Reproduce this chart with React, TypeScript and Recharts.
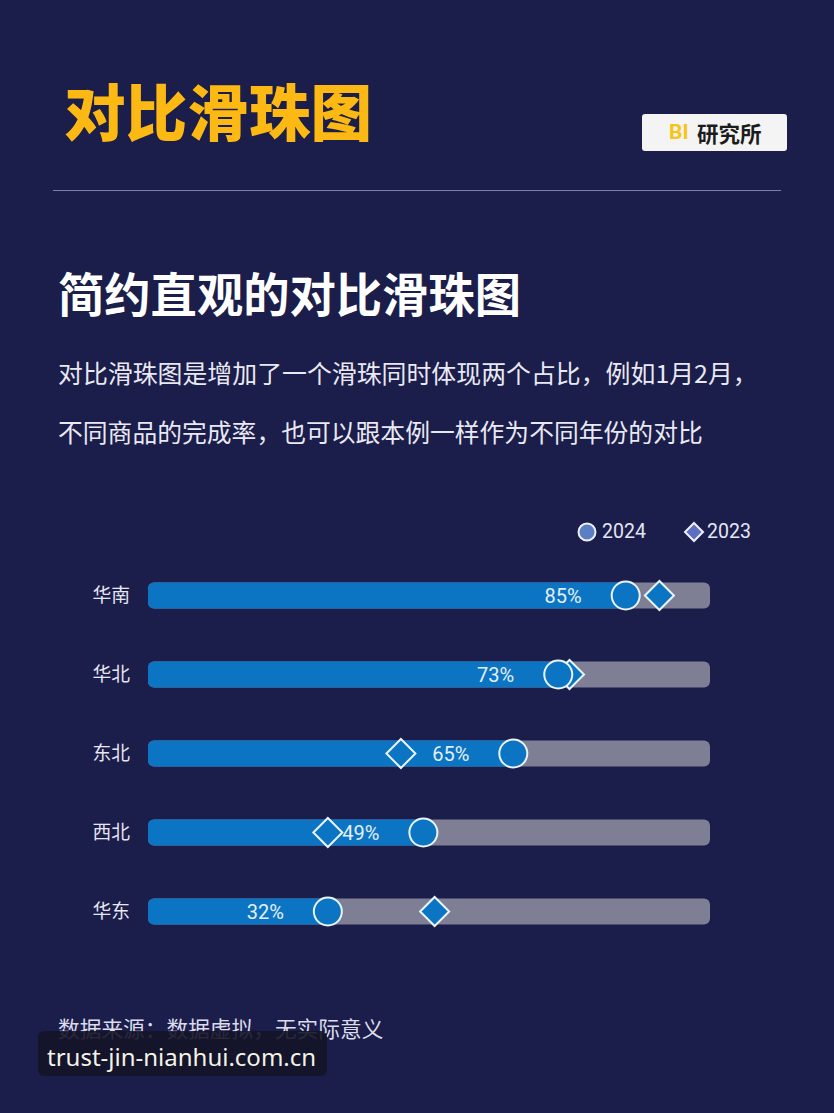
import { BarChart, Bar, XAxis, YAxis, Legend, LabelList } from 'recharts';

const regions = ['华南', '华北', '东北', '西北', '华东'];
const values2024 = [85, 73, 65, 49, 32];
const values2023 = [91, 75, 45, 32, 51];
const seriesNames = ['2024', '2023'];

const chartData = regions.map((region, i) => ({
  region,
  v2024: values2024[i],
  v2023: values2023[i],
  bead2024: values2024[i],
}));

const CJK = '"Noto Sans CJK SC", "Noto Sans", sans-serif';
const BG = '#1b1d4a';
const BLUE = '#0b75c3';
const TRACK = '#7e7e95';
const BEAD_STROKE = '#e9f4f8';
const BAR_H = 26;

// bead sits on the tip of the bar, so the position still comes from the x scale
function CircleBead(props: any) {
  const { x, y, width, height } = props;
  return <circle cx={x + width} cy={y + height / 2} r={14} fill={BLUE} stroke={BEAD_STROKE} strokeWidth={2} />;
}

function DiamondBead(props: any) {
  const { x, y, width, height } = props;
  const cx = x + width;
  const cy = y + height / 2;
  const r = 14.5;
  return (
    <path
      d={`M${cx - r},${cy}L${cx},${cy - r}L${cx + r},${cy}L${cx},${cy + r}Z`}
      fill={BLUE}
      stroke={BEAD_STROKE}
      strokeWidth={2}
      strokeLinejoin="miter"
    />
  );
}

function BeadLegend() {
  return (
    <div style={{ position: 'relative', width: 200, height: 30, fontFamily: 'Roboto, sans-serif', fontSize: 19.5, color: '#e4e6f4' }}>
      <svg width={200} height={30} style={{ position: 'absolute', left: 0, top: 0 }}>
        <circle cx={10} cy={15} r={8.5} fill="#5b7fc4" stroke="#eef0fa" strokeWidth={2} />
        <path d="M117,6L126,15L117,24L108,15Z" fill="#5d6fc0" stroke="#eef0fa" strokeWidth={2} />
      </svg>
      <span style={{ position: 'absolute', left: 25, top: 3 }}>{seriesNames[0]}</span>
      <span style={{ position: 'absolute', left: 130, top: 3 }}>{seriesNames[1]}</span>
    </div>
  );
}

const abs = (left: number, top: number, extra: any = {}) => ({
  position: 'absolute' as const,
  left,
  top,
  whiteSpace: 'nowrap' as const,
  fontFamily: CJK,
  ...extra,
});

export default function App() {
  return (
    <div style={{ position: 'absolute', left: 0, top: 0, width: 834, height: 1113, background: BG, overflow: 'hidden' }}>
      <div style={abs(64, 66, { fontSize: 61.6, lineHeight: '88px', fontWeight: 900, color: '#fdb913' })}>对比滑珠图</div>

      <div style={abs(642, 114, { width: 145, height: 37, background: '#f4f4f5', borderRadius: 3 })}>
        <span style={abs(27, 3, { fontSize: 21, lineHeight: '31px', fontWeight: 700, color: '#f5c518', fontFamily: 'Roboto, sans-serif' })}>BI</span>
        <span style={abs(55, 3, { fontSize: 21.5, lineHeight: '31px', fontWeight: 700, color: '#1c1c1c' })}>研究所</span>
      </div>

      <div style={{ position: 'absolute', left: 53, top: 190, width: 728, height: 1, background: '#7c7fa6' }} />

      <div style={abs(58, 259, { fontSize: 46.3, lineHeight: '66px', fontWeight: 700, color: '#ffffff' })}>简约直观的对比滑珠图</div>
      <div style={abs(58, 354, { fontSize: 24.9, lineHeight: '36px', fontWeight: 400, color: '#e9e9f3' })}>
        对比滑珠图是增加了一个滑珠同时体现两个占比，例如1月2月，
      </div>
      <div style={abs(58, 413, { fontSize: 24.8, lineHeight: '36px', fontWeight: 400, color: '#e9e9f3' })}>
        不同商品的完成率，也可以跟本例一样作为不同年份的对比
      </div>

      <div style={{ position: 'absolute', left: 0, top: 500 }}>
        <BarChart
          width={834}
          height={500}
          data={chartData}
          layout="vertical"
          barSize={BAR_H}
          barGap={-BAR_H}
          margin={{ top: 55.5, right: 124, bottom: 49.5, left: 0 }}
        >
          <XAxis type="number" domain={[0, 100]} hide />
          <YAxis
            type="category"
            dataKey="region"
            width={148}
            tickLine={false}
            axisLine={false}
            tickSize={0}
            tickMargin={18}
            tick={{ fill: '#e6e7f2', fontSize: 18.8, fontFamily: CJK }}
          />
          <Legend
            verticalAlign="middle"
            align="center"
            content={<BeadLegend />}
            wrapperStyle={{ left: 577, top: 17, width: 200, height: 30 }}
          />
          <Bar
            dataKey="v2024"
            fill={BLUE}
            radius={[6, 0, 0, 6]}
            background={{ fill: TRACK, radius: 6 } as any}
            isAnimationActive={false}
          >
            <LabelList
              dataKey="v2024"
              position="insideRight"
              offset={44}
              formatter={(v: any) => `${v}%`}
              fill="#e4eef8"
              fontSize={20}
              fontFamily="Roboto, sans-serif"
            />
          </Bar>
          <Bar dataKey="v2023" shape={<DiamondBead />} isAnimationActive={false} />
          <Bar dataKey="bead2024" shape={<CircleBead />} isAnimationActive={false} />
        </BarChart>
      </div>

      <div style={abs(58, 1012, { fontSize: 21.7, lineHeight: '32px', color: '#dcdcea' })}>数据来源：数据虚拟，无实际意义</div>
      <div style={{ position: 'absolute', left: 38, top: 1031, width: 289, height: 45, background: 'rgba(20,20,40,0.9)', borderRadius: 6 }} />
      <div style={abs(47, 1041, { fontSize: 24, lineHeight: '32px', color: '#f3f3e6', fontFamily: '"Noto Sans", sans-serif' })}>trust-jin-nianhui.com.cn</div>
    </div>
  );
}
